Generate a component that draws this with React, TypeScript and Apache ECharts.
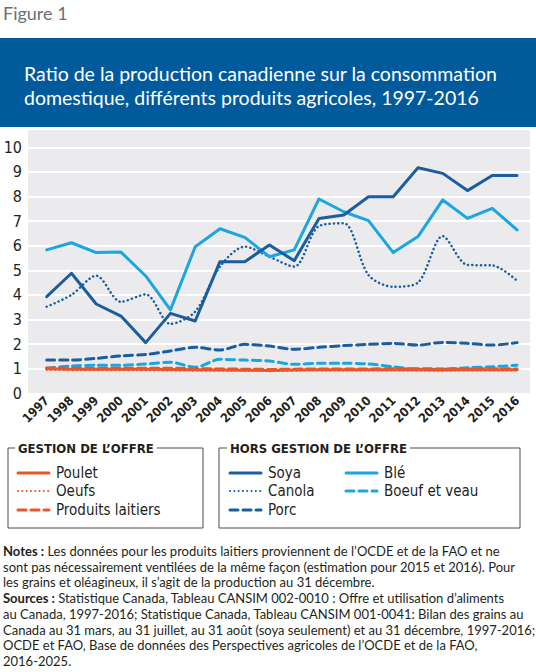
import React, { useEffect, useRef } from "react";
import * as echarts from "echarts";

const years = ["1997","1998","1999","2000","2001","2002","2003","2004","2005","2006","2007","2008","2009","2010","2011","2012","2013","2014","2015","2016"];
const soya = [3.93,4.88,3.63,3.14,2.06,3.25,2.94,5.35,5.35,6.03,5.39,7.11,7.25,7.99,7.99,9.17,8.94,8.24,8.85,8.85];
const ble = [5.83,6.12,5.72,5.74,4.77,3.39,5.96,6.69,6.34,5.55,5.83,7.9,7.38,7.02,5.72,6.37,7.86,7.11,7.52,6.64];
const canola = [3.52,4.0,4.78,3.72,4.02,2.82,3.32,5.15,5.96,5.55,5.15,6.8,6.91,4.81,4.33,4.5,6.39,5.22,5.2,4.58];
const porc = [1.35,1.35,1.42,1.52,1.58,1.72,1.87,1.76,1.99,1.92,1.79,1.87,1.94,1.99,2.03,1.96,2.07,2.03,1.96,2.06];
const boeuf = [1.02,1.11,1.14,1.14,1.19,1.26,1.06,1.38,1.35,1.31,1.18,1.22,1.22,1.19,1.08,0.98,0.98,1.04,1.08,1.14];
const poulet = [1.0,0.98,0.98,0.98,0.98,0.97,0.96,0.95,0.94,0.93,0.95,0.96,0.96,0.96,0.96,0.96,0.95,0.96,0.96,0.96];
const oeufs = [0.95,0.94,0.94,0.94,0.93,0.93,0.92,0.92,0.92,0.9,0.92,0.93,0.93,0.93,0.93,0.92,0.92,0.93,0.93,0.92];
const laitiers = [1.03,1.02,1.01,1.02,1.02,1.02,1.0,0.99,0.98,0.97,0.98,0.99,0.99,0.99,1.0,1.0,0.99,0.99,1.0,0.99];
const yTicks = [0, 10, 1];

const ORANGE = "#e8562a";
const DARK = "#1b5e9e";
const LIGHT = "#1ba6e0";
const TXT = "#231f20";
const COND = "'DejaVu Sans Condensed', 'Liberation Sans Narrow', sans-serif";
const BODY = "Lato, 'Open Sans', sans-serif";

const DOT = [0.1, 4.2];
const DASH = [8, 5];

function line(name: string, data: number[], color: string, type: any, width: number, smooth: boolean | number) {
  return {
    name,
    type: "line",
    xAxisIndex: 1,
    yAxisIndex: 1,
    data,
    symbol: "none",
    smooth,
    lineStyle: { color, width, type, cap: "round", join: "round" },
  };
}

function legendItem(x: number, y: number, color: string, dash: any, width: number, label: string) {
  return [
    {
      type: "line",
      shape: { x1: x, y1: y, x2: x + 31, y2: y },
      style: { stroke: color, lineWidth: width, lineDash: dash, lineCap: "round" },
    },
    {
      type: "text",
      x: x + 38,
      y,
      style: { text: label, fill: TXT, font: `15px ${COND}`, textVerticalAlign: "middle" },
    },
  ];
}

const notes = [
  ["Notes :", " Les données pour les produits laitiers proviennent de l\u2019OCDE et de la FAO et ne"],
  ["", "sont pas nécessairement ventilées de la même façon (estimation pour 2015 et 2016). Pour"],
  ["", "les grains et oléagineux, il s\u2019agit de la production au 31 décembre."],
  ["Sources :", " Statistique Canada, Tableau CANSIM 002-0010 : Offre et utilisation d\u2019aliments"],
  ["", "au Canada, 1997-2016; Statistique Canada, Tableau CANSIM 001-0041: Bilan des grains au"],
  ["", "Canada au 31 mars, au 31 juillet, au 31 août (soya seulement) et au 31 décembre, 1997-2016;"],
  ["", "OCDE et FAO, Base de données des Perspectives agricoles de l\u2019OCDE et de la FAO,"],
  ["", "2016-2025."],
];

export default function App() {
  const ref = useRef<HTMLDivElement>(null);
  useEffect(() => {
    const chart = echarts.init(ref.current!, null, { renderer: "svg" });
    const graphics: any[] = [
      {
        type: "text",
        x: 3,
        y: 13,
        style: { text: "Figure 1", fill: "#6d6e71", font: `18px ${BODY}`, textVerticalAlign: "middle" },
      },
      { type: "rect", shape: { x: 0, y: 38, width: 536, height: 89 }, style: { fill: "#005a9c" } },
      {
        type: "text",
        x: 24,
        y: 73,
        style: { text: "Ratio de la production canadienne sur la consommation", fill: "#ffffff", font: `19.5px ${BODY}`, textVerticalAlign: "middle" },
      },
      {
        type: "text",
        x: 24,
        y: 97,
        style: { text: "domestique, différents produits agricoles, 1997-2016", fill: "#ffffff", font: `19.5px ${BODY}`, textVerticalAlign: "middle" },
      },
      { type: "rect", z: -10, shape: { x: 28, y: 130, width: 502, height: 265 }, style: { fill: "#ebebed" } },
      { type: "rect", shape: { x: 8, y: 448, width: 195, height: 80 }, style: { fill: "none", stroke: "#4d4d4f", lineWidth: 1 } },
      { type: "rect", shape: { x: 219, y: 448, width: 301, height: 80 }, style: { fill: "none", stroke: "#4d4d4f", lineWidth: 1 } },
      {
        type: "text",
        x: 15,
        y: 448,
        style: { text: "GESTION DE L\u2019OFFRE", fill: TXT, font: `bold 13px ${COND}`, textVerticalAlign: "middle", backgroundColor: "#ffffff", padding: [0, 3, 0, 3] },
      },
      {
        type: "text",
        x: 227,
        y: 448,
        style: { text: "HORS GESTION DE L\u2019OFFRE", fill: TXT, font: `bold 13px ${COND}`, textVerticalAlign: "middle", backgroundColor: "#ffffff", padding: [0, 3, 0, 3] },
      },
      ...legendItem(18, 473, ORANGE, null, 3, "Poulet"),
      ...legendItem(18, 491, ORANGE, [0.1, 4.2], 2, "Oeufs"),
      ...legendItem(18, 510, ORANGE, [8, 5], 3, "Produits laitiers"),
      ...legendItem(230, 473, DARK, null, 3, "Soya"),
      ...legendItem(230, 491, DARK, [0.1, 4.2], 2, "Canola"),
      ...legendItem(230, 510, DARK, [8, 5], 3, "Porc"),
      ...legendItem(346, 473, LIGHT, null, 3, "Blé"),
      ...legendItem(346, 491, LIGHT, [8, 5], 3, "Boeuf et veau"),
      ...notes.map((n, i) => ({
        type: "text",
        x: 3,
        y: 551 + i * 15.7,
        style: {
          text: (n[0] ? `{b|${n[0]}}` : "") + `{r|${n[1]}}`,
          textVerticalAlign: "middle",
          rich: {
            b: { fill: TXT, font: `bold 13px ${BODY}` },
            r: { fill: TXT, font: `13px ${BODY}` },
          },
        },
      })),
    ];

    const option: any = {
      animation: false,
      backgroundColor: "#ffffff",
      graphic: { elements: graphics },
      grid: [
        { left: 28, right: 6, top: 147.3, bottom: 672 - 393.3 },
        { left: 46.7, right: 19, top: 147.3, bottom: 672 - 393.3 },
      ],
      xAxis: [
        { gridIndex: 0, type: "value", min: 0, max: 1, show: false },
        {
          gridIndex: 1,
          type: "category",
          data: years,
          boundaryGap: false,
          axisLine: { show: false },
          axisTick: { show: false },
          axisLabel: {
            rotate: 45,
            interval: 0,
            margin: 5,
            color: TXT,
            fontFamily: COND,
            fontWeight: "bold",
            fontSize: 12.5,
          },
          splitLine: { show: false },
        },
      ],
      yAxis: [
        {
          gridIndex: 0,
          type: "value",
          min: yTicks[0],
          max: yTicks[1],
          interval: yTicks[2],
          axisLine: { show: false },
          axisTick: { show: false },
          axisLabel: { color: TXT, fontFamily: COND, fontSize: 16, margin: 6 },
          splitLine: { lineStyle: { color: "#ffffff", width: 2 } },
        },
        { gridIndex: 1, type: "value", min: yTicks[0], max: yTicks[1], show: false },
      ],
      series: [
        line("Porc", porc, DARK, DASH, 3, 0.3),
        line("Boeuf et veau", boeuf, LIGHT, DASH, 3, 0.3),
        line("Canola", canola, DARK, DOT, 2.5, 0.3),
        line("Blé", ble, LIGHT, "solid", 3, false),
        line("Soya", soya, DARK, "solid", 3, false),
        line("Produits laitiers", laitiers, ORANGE, DASH, 3, false),
        line("Oeufs", oeufs, ORANGE, DOT, 2, false),
        line("Poulet", poulet, ORANGE, "solid", 3, false),
      ],
    };
    chart.setOption(option);
    return () => chart.dispose();
  }, []);
  return <div ref={ref} style={{ position: "absolute", left: 0, top: 0, width: 536, height: 672 }} />;
}
